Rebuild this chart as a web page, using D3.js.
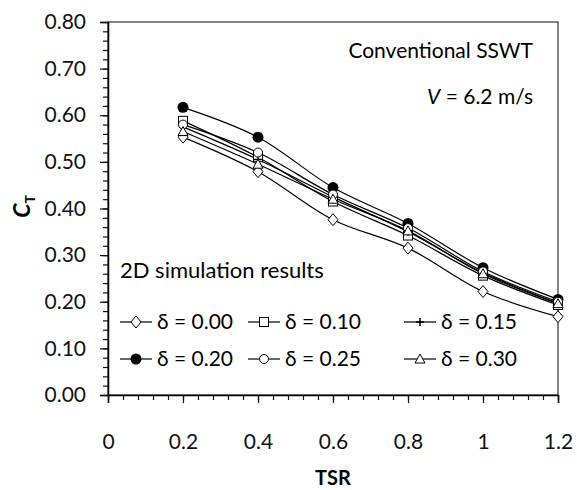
<html>
<script src='https://d3js.org/d3.v7.min.js'></script>
<body style='margin:0;background:#fff'>
<div id='vis'></div>
<script>
// TSR values and C_T series
const tsr = [0.2, 0.4, 0.6, 0.8, 1.0, 1.2];
const delta000 = [0.553, 0.479, 0.376, 0.315, 0.222, 0.168];
const delta010 = [0.588, 0.510, 0.415, 0.342, 0.256, 0.193];
const delta015 = [0.575, 0.505, 0.425, 0.350, 0.262, 0.197];
const delta020 = [0.617, 0.553, 0.445, 0.368, 0.273, 0.205];
const delta025 = [0.580, 0.520, 0.430, 0.358, 0.265, 0.200];
const delta030 = [0.565, 0.495, 0.420, 0.352, 0.260, 0.196];
const seriesNames = ['δ = 0.00', 'δ = 0.10', 'δ = 0.15', 'δ = 0.20', 'δ = 0.25', 'δ = 0.30'];
const xTicks = [0, 0.2, 0.4, 0.6, 0.8, 1, 1.2];
const yTicks = [0, 0.1, 0.2, 0.3, 0.4, 0.5, 0.6, 0.7, 0.8];

const series = [
    {name: seriesNames[0], values: delta000, marker: 'diamond'},
    {name: seriesNames[1], values: delta010, marker: 'square'},
    {name: seriesNames[2], values: delta015, marker: 'plus'},
    {name: seriesNames[3], values: delta020, marker: 'dot'},
    {name: seriesNames[4], values: delta025, marker: 'circle'},
    {name: seriesNames[5], values: delta030, marker: 'triangle'}
];

const W = 577, H = 490;
const m = {left: 108, top: 22, right: 19, bottom: 95};
const font = 'Lato, sans-serif';

const svg = d3.select('#vis').append('svg').attr('width', W).attr('height', H)
    .style('font-family', font);

const x = d3.scaleLinear().domain([0, 1.2]).range([m.left, W - m.right]);
const y = d3.scaleLinear().domain([0, 0.8]).range([H - m.bottom, m.top]);

// frame
svg.append('rect')
    .attr('x', x(0)).attr('y', y(0.8))
    .attr('width', x(1.2) - x(0)).attr('height', y(0) - y(0.8))
    .attr('fill', 'none').attr('stroke', '#333').attr('stroke-width', 1.2);

// y axis with minor ticks
const yAxis = svg.append('g').attr('transform', `translate(${x(0)},0)`);
yAxis.call(d3.axisLeft(y).tickValues(d3.range(0, 0.801, 0.02)).tickSize(5).tickFormat(''));
yAxis.call(g => g.select('.domain').remove());
const yMajor = svg.append('g').attr('transform', `translate(${x(0)},0)`)
    .call(d3.axisLeft(y).tickValues(yTicks).tickSize(8).tickPadding(14).tickFormat(d3.format('.2f')));
yMajor.select('.domain').attr('stroke-width', 1.5);
yMajor.selectAll('text').attr('font-size', 21).attr('fill', '#111').attr('font-family', font);

// x axis with minor ticks
const xAxis = svg.append('g').attr('transform', `translate(0,${y(0)})`);
xAxis.call(d3.axisBottom(x).tickValues(d3.range(0, 1.201, 0.04)).tickSize(5).tickFormat(''));
xAxis.call(g => g.select('.domain').remove());
const xMajor = svg.append('g').attr('transform', `translate(0,${y(0)})`)
    .call(d3.axisBottom(x).tickValues(xTicks).tickSize(8).tickPadding(31).tickFormat(d => String(d)));
xMajor.select('.domain').attr('stroke-width', 1.5);
xMajor.selectAll('text').attr('font-size', 21).attr('fill', '#111').attr('font-family', font);
svg.selectAll('.tick line').attr('stroke', '#111').attr('stroke-width', 1.2);

// axis titles
svg.append('text').attr('x', x(0.6)).attr('y', 485).attr('text-anchor', 'middle')
    .attr('font-weight', 'bold').attr('font-size', 20).text('TSR');
const yt = svg.append('text').attr('transform', `translate(30,${y(0.4) - 2}) rotate(-90)`)
    .attr('text-anchor', 'middle').attr('font-weight', 'bold').attr('font-size', 23);
yt.append('tspan').attr('font-style', 'italic').text('C');
yt.append('tspan').attr('font-size', 14).attr('dy', 5).text('T');

// markers
function drawMarker(g, type, cx, cy) {
    const s = 5;
    if (type === 'diamond') {
        g.append('path').attr('d', `M${cx},${cy - s - 1}L${cx + s},${cy}L${cx},${cy + s + 1}L${cx - s},${cy}Z`)
            .attr('fill', '#fff').attr('stroke', '#000').attr('stroke-width', 1);
    } else if (type === 'square') {
        g.append('rect').attr('x', cx - 4.5).attr('y', cy - 4.5).attr('width', 9).attr('height', 9)
            .attr('fill', '#fff').attr('stroke', '#000').attr('stroke-width', 1);
    } else if (type === 'plus') {
        g.append('path').attr('d', `M${cx - 4},${cy}H${cx + 4}M${cx},${cy - 4}V${cy + 4}`)
            .attr('stroke', '#000').attr('stroke-width', 1.5);
    } else if (type === 'dot') {
        g.append('circle').attr('cx', cx).attr('cy', cy).attr('r', 5.5).attr('fill', '#000');
    } else if (type === 'circle') {
        g.append('circle').attr('cx', cx).attr('cy', cy).attr('r', 4.5)
            .attr('fill', '#fff').attr('stroke', '#000').attr('stroke-width', 1);
    } else if (type === 'triangle') {
        g.append('path').attr('d', `M${cx},${cy - 5}L${cx + 5},${cy + 4}L${cx - 5},${cy + 4}Z`)
            .attr('fill', '#fff').attr('stroke', '#000').attr('stroke-width', 1);
    }
}

const line = d3.line().x((d, i) => x(tsr[i])).y(d => y(d)).curve(d3.curveCatmullRom.alpha(0.5));
const plot = svg.append('g');
series.forEach(s => {
    plot.append('path').datum(s.values).attr('d', line)
        .attr('fill', 'none').attr('stroke', '#000').attr('stroke-width', 1.2);
});
series.forEach(s => {
    const g = plot.append('g');
    s.values.forEach((v, i) => drawMarker(g, s.marker, x(tsr[i]), y(v)));
});

// annotations
svg.append('text').attr('x', 533).attr('y', 58).attr('text-anchor', 'end')
    .attr('font-size', 21).text('Conventional SSWT');
const vt = svg.append('text').attr('x', 533).attr('y', 104).attr('text-anchor', 'end').attr('font-size', 21);
vt.append('tspan').attr('font-style', 'italic').text('V');
vt.append('tspan').text(' = 6.2 m/s');
svg.append('text').attr('x', 120).attr('y', 278).attr('font-size', 22).text('2D simulation results');

// legend
const legX = [120, 248, 404], legY = [322, 359];
series.forEach((s, i) => {
    const lx = legX[i % 3], ly = legY[Math.floor(i / 3)];
    const g = svg.append('g');
    g.append('line').attr('x1', lx).attr('x2', lx + 32).attr('y1', ly).attr('y2', ly)
        .attr('stroke', '#000').attr('stroke-width', 1.2);
    drawMarker(g, s.marker, lx + 16, ly);
    g.append('text').attr('x', lx + 37).attr('y', ly + 7).attr('font-size', 21).text(s.name);
});
</script>
</body>
</html>
